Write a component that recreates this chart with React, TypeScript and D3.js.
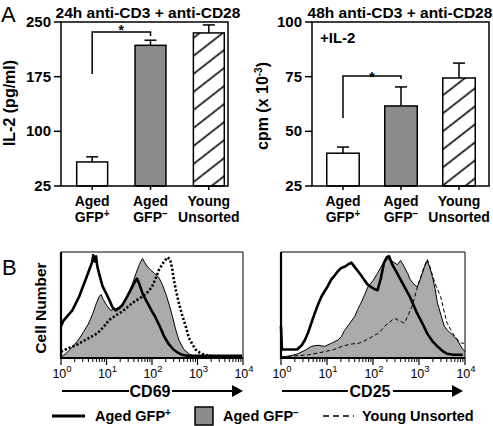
import React from "react";
import * as d3 from "d3";

// ---------- Panel A data ----------
const categories = ["Aged GFP+", "Aged GFP−", "Young Unsorted"];
const catLine1 = ["Aged", "Aged", "Young"];
const catLine2 = ["GFP", "GFP", "Unsorted"];
const catSup = ["+", "−", ""];

const il2Means = [58, 218, 235];
const il2Errors = [7, 7, 11];
const il2Ticks = [25, 100, 175, 250];

const cpmMeans = [40, 61.6, 74.4];
const cpmErrors = [2.8, 8.7, 6.8];
const cpmTicks = [25, 50, 75, 100];

// ---------- Panel B data (x: log10 fluorescence, y: % of max) ----------
const cd69AgedPos: [number, number][] = [
  [0, 30], [0.05, 35], [0.15, 40], [0.25, 45], [0.33, 52], [0.4, 58], [0.47, 66], [0.55, 75], [0.62, 83],
  [0.68, 90], [0.71, 97], [0.74, 91], [0.77, 96], [0.8, 86], [0.86, 76], [0.91, 68], [0.98, 62],
  [1.06, 55], [1.13, 48], [1.2, 45], [1.28, 47], [1.35, 50], [1.43, 56], [1.53, 64], [1.6, 70],
  [1.67, 75], [1.72, 70], [1.8, 60], [1.9, 52], [2.0, 44], [2.08, 38], [2.17, 30], [2.27, 20],
  [2.37, 13], [2.47, 8], [2.57, 5], [2.66, 3], [2.8, 2], [3.0, 2], [3.5, 2], [3.98, 2],
];
const cd69AgedNeg: [number, number][] = [
  [0, 1], [0.1, 4], [0.2, 8], [0.3, 13], [0.4, 18], [0.5, 25], [0.6, 32], [0.7, 42], [0.78, 52],
  [0.84, 58], [0.88, 60], [0.93, 55], [1.0, 50], [1.09, 45], [1.18, 46], [1.28, 48], [1.38, 52],
  [1.47, 60], [1.57, 70], [1.65, 80], [1.72, 88], [1.79, 94], [1.84, 90], [1.9, 86], [1.97, 83],
  [2.05, 80], [2.15, 76], [2.22, 70], [2.3, 61], [2.38, 50], [2.45, 39], [2.52, 27], [2.59, 17],
  [2.7, 8], [2.81, 4], [2.95, 1], [3.2, 0.5], [4, 0.5],
];
const cd69Young: [number, number][] = [
  [0, 6], [0.1, 8], [0.2, 10], [0.33, 12], [0.45, 15], [0.62, 19], [0.75, 22], [0.84, 25], [0.95, 30],
  [1.06, 36], [1.2, 40], [1.35, 44], [1.46, 48], [1.57, 52], [1.68, 55], [1.79, 58], [1.9, 62],
  [2.0, 67], [2.08, 75], [2.15, 83], [2.25, 90], [2.34, 95], [2.4, 93], [2.44, 85], [2.48, 74],
  [2.53, 63], [2.59, 52], [2.66, 41], [2.74, 30], [2.81, 19], [2.9, 12], [2.96, 8], [3.05, 5],
  [3.15, 3], [3.3, 2],
];
const cd25AgedPos: [number, number][] = [
  [0, 30], [0.02, 8], [0.2, 8], [0.35, 8], [0.45, 12], [0.52, 17], [0.59, 24], [0.66, 33], [0.74, 43],
  [0.81, 51], [0.88, 58], [0.95, 63], [1.02, 68], [1.09, 74], [1.17, 78], [1.24, 82], [1.31, 85],
  [1.38, 86], [1.45, 88], [1.53, 90], [1.6, 86], [1.67, 82], [1.74, 78], [1.82, 73], [1.89, 69],
  [1.96, 67], [2.03, 65], [2.1, 64], [2.17, 75], [2.24, 90], [2.3, 95], [2.35, 96], [2.42, 88],
  [2.5, 82], [2.6, 74], [2.7, 66], [2.8, 58], [2.9, 48], [2.96, 42], [3.07, 33], [3.18, 23],
  [3.29, 16], [3.4, 11], [3.5, 7], [3.61, 4], [3.75, 3], [3.95, 3],
];
const cd25AgedNeg: [number, number][] = [
  [0, 1], [0.2, 2], [0.37, 4], [0.55, 8], [0.66, 11], [0.8, 12], [0.95, 11], [1.1, 14], [1.24, 17],
  [1.31, 20], [1.38, 26], [1.5, 33], [1.6, 39], [1.67, 46], [1.74, 52], [1.82, 60], [1.89, 67],
  [2.0, 73], [2.1, 80], [2.2, 88], [2.28, 94], [2.35, 93], [2.46, 90], [2.53, 88], [2.6, 92],
  [2.68, 86], [2.75, 80], [2.81, 74], [2.88, 70], [2.96, 67], [3.05, 77], [3.12, 86], [3.18, 92],
  [3.23, 86], [3.29, 77], [3.35, 65], [3.4, 52], [3.48, 40], [3.55, 30], [3.62, 26], [3.7, 23],
  [3.77, 20], [3.83, 17], [3.9, 12], [3.94, 9], [4.0, 6],
];
const cd25Young: [number, number][] = [
  [0, 1], [0.3, 2], [0.6, 3], [0.95, 6], [1.15, 8], [1.33, 11], [1.5, 13], [1.7, 14], [1.85, 17],
  [1.98, 20], [2.1, 23], [2.2, 27], [2.28, 31], [2.34, 33], [2.42, 36], [2.5, 37], [2.57, 35],
  [2.63, 34], [2.68, 33], [2.74, 38], [2.78, 42], [2.84, 48], [2.89, 55], [2.96, 66], [3.04, 77],
  [3.11, 86], [3.18, 93], [3.24, 86], [3.3, 77], [3.38, 67], [3.47, 58], [3.54, 45], [3.61, 33],
  [3.7, 26], [3.78, 20], [3.85, 17], [3.92, 14], [3.98, 14],
];
const decades = [0, 1, 2, 3, 4];

const FONT = "'Liberation Sans', Arial, Helvetica, sans-serif";
const BAR_GRAY = "#8c8c8c";
const HIST_GRAY = "#ababab";

type BarPanelProps = {
  left: number; right: number; top: number; bottom: number;
  bandRange: [number, number]; padInner: number; padOuter: number;
  domain: [number, number]; ticks: number[]; means: number[]; errors: number[];
  title: string; titleX: number; ylabel: React.ReactNode; ylabelX: number;
  bracketTop: number; bracketStart: number; bracketEndDrop: number; starY: number;
  extra?: React.ReactNode;
};

function BarPanel(p: BarPanelProps) {
  const y = d3.scaleLinear().domain(p.domain).range([p.bottom, p.top]);
  const x = d3.scaleBand<string>().domain(categories).range(p.bandRange)
    .paddingInner(p.padInner).paddingOuter(p.padOuter);
  const bw = x.bandwidth();
  const cx = (c: string) => (x(c) as number) + bw / 2;
  const fills = [ "#ffffff", BAR_GRAY, "url(#hatch)" ];
  const c0 = cx(categories[0]);
  const c1 = cx(categories[1]);
  return (
    <g fontFamily={FONT}>
      <text x={p.titleX} y={18} textAnchor="middle" fontSize={15.5} fontWeight="bold">{p.title}</text>
      {p.ylabel}
      {p.ticks.map((t) => (
        <g key={t}>
          <line x1={p.left - 7} x2={p.left} y1={y(t)} y2={y(t)} stroke="black" strokeWidth={1.5} />
          <text x={p.left - 10} y={y(t) + 5} textAnchor="end" fontSize={15} fontWeight="bold">{t}</text>
        </g>
      ))}
      {categories.map((c, i) => (
        <g key={c}>
          <rect x={x(c)} y={y(p.means[i])} width={bw} height={p.bottom - y(p.means[i])}
            fill={fills[i]} stroke="black" strokeWidth={1.5} />
          <line x1={cx(c)} x2={cx(c)} y1={y(p.means[i])} y2={y(p.means[i] + p.errors[i])} stroke="black" strokeWidth={1.5} />
          <line x1={cx(c) - 6} x2={cx(c) + 6} y1={y(p.means[i] + p.errors[i])} y2={y(p.means[i] + p.errors[i])} stroke="black" strokeWidth={1.5} />
          <line x1={cx(c)} x2={cx(c)} y1={p.bottom} y2={p.bottom + 4} stroke="black" strokeWidth={1.5} />
          <text x={cx(c)} y={206} textAnchor="middle" fontSize={14} fontWeight="bold">{catLine1[i]}</text>
          <text x={cx(c)} y={222} textAnchor="middle" fontSize={14} fontWeight="bold">
            {catLine2[i]}
            {catSup[i] && <tspan fontSize={10} dy={-5}>{catSup[i]}</tspan>}
          </text>
        </g>
      ))}
      <rect x={p.left} y={p.top} width={p.right - p.left} height={p.bottom - p.top} fill="none" stroke="black" strokeWidth={1.5} />
      <path d={`M${c0},${p.bracketStart}V${p.bracketTop}H${c1}V${p.bracketTop + p.bracketEndDrop}`} fill="none" stroke="black" strokeWidth={1.5} />
      <text x={(c0 + c1) / 2} y={p.starY} textAnchor="middle" fontSize={14} fontWeight="bold">*</text>
      {p.extra}
    </g>
  );
}

type HistProps = {
  left: number; right: number; top: number; bottom: number;
  agedPos: [number, number][]; agedNeg: [number, number][]; young: [number, number][];
  youngStyle: { width: number; dash: string };
  label: string; labelX: number; arrowStart: number; arrowEnd: number; textL: number; textR: number;
};

function Hist(p: HistProps) {
  const x = d3.scaleLog().domain([1, 10000]).range([p.left, p.right]);
  const y = d3.scaleLinear().domain([0, 100]).range([p.bottom, p.top]);
  const line = d3.line<[number, number]>().x((d) => x(Math.pow(10, d[0]))).y((d) => y(d[1]));
  const area = d3.area<[number, number]>().x((d) => x(Math.pow(10, d[0]))).y0(y(0)).y1((d) => y(d[1]));
  const minor: number[] = [];
  for (let dd = 0; dd < 4; dd++) for (let m = 2; m <= 9; m++) minor.push(m * Math.pow(10, dd));
  const ay = 391;
  return (
    <g fontFamily={FONT}>
      <path d={area(p.agedNeg) || ""} fill={HIST_GRAY} stroke="none" />
      <path d={line(p.agedNeg) || ""} fill="none" stroke="black" strokeWidth={1} />
      <path d={line(p.young) || ""} fill="none" stroke="black" strokeWidth={p.youngStyle.width} strokeDasharray={p.youngStyle.dash} />
      <path d={line(p.agedPos) || ""} fill="none" stroke="black" strokeWidth={2.6} strokeLinejoin="round" />
      <line x1={p.left} x2={p.right} y1={p.top} y2={p.top} stroke="black" strokeWidth={1} />
      <line x1={p.right} x2={p.right} y1={p.top} y2={p.bottom} stroke="black" strokeWidth={1} />
      <line x1={p.left} x2={p.left} y1={p.top} y2={p.bottom + 1} stroke="black" strokeWidth={2.2} />
      <line x1={p.left} x2={p.right} y1={p.bottom} y2={p.bottom} stroke="black" strokeWidth={2.2} />
      {minor.map((v) => (
        <line key={v} x1={x(v)} x2={x(v)} y1={p.bottom} y2={p.bottom + 4} stroke="black" strokeWidth={1} />
      ))}
      {decades.map((dd) => (
        <g key={dd}>
          <line x1={x(Math.pow(10, dd))} x2={x(Math.pow(10, dd))} y1={p.bottom} y2={p.bottom + 7} stroke="black" strokeWidth={1.2} />
          <text x={x(Math.pow(10, dd)) + 1} y={378} textAnchor="middle" fontSize={12.5}>
            10<tspan fontSize={9.5} dy={-6}>{dd}</tspan>
          </text>
        </g>
      ))}
      <line x1={p.arrowStart} x2={p.textL} y1={ay} y2={ay} stroke="black" strokeWidth={1.8} />
      <line x1={p.textR} x2={p.arrowEnd - 9} y1={ay} y2={ay} stroke="black" strokeWidth={1.8} />
      <path d={`M${p.arrowEnd - 11},${ay - 6}L${p.arrowEnd},${ay}L${p.arrowEnd - 11},${ay + 6}Z`} fill="black" />
      <text x={p.labelX} y={397} textAnchor="middle" fontSize={16} fontWeight="bold">{p.label}</text>
    </g>
  );
}

export default function App() {
  return (
    <svg width={493} height={426} style={{ position: "absolute", left: 0, top: 0, background: "white" }}>
      <defs>
        <pattern id="hatch" patternUnits="userSpaceOnUse" width={12} height={14.2} patternTransform="rotate(-38)">
          <line x1={0} x2={12} y1={7} y2={7} stroke="black" strokeWidth={1.6} />
        </pattern>
      </defs>
      <rect x={0} y={0} width={493} height={426} fill="white" />
      <text x={1} y={22} fontSize={22} fontFamily={FONT}>A</text>
      <text x={2} y={275} fontSize={22} fontFamily={FONT}>B</text>

      <BarPanel left={61} right={228} top={22} bottom={186}
        bandRange={[63, 238]} padInner={0.47} padOuter={0.235}
        domain={[25, 250]} ticks={il2Ticks} means={il2Means} errors={il2Errors}
        title="24h anti-CD3 + anti-CD28" titleX={148}
        ylabel={<text transform="translate(15,103) rotate(-90)" textAnchor="middle" fontSize={16} fontWeight="bold">IL-2 (pg/ml)</text>}
        ylabelX={15} bracketTop={32} bracketStart={74} bracketEndDrop={4} starY={35} />

      <BarPanel left={312} right={489} top={22} bottom={186}
        bandRange={[313, 489]} padInner={0.44} padOuter={0.237}
        domain={[25, 100]} ticks={cpmTicks} means={cpmMeans} errors={cpmErrors}
        title="48h anti-CD3 + anti-CD28" titleX={400}
        ylabel={<text transform="translate(268,106) rotate(-90)" textAnchor="middle" fontSize={16} fontWeight="bold">cpm (x 10<tspan fontSize={10} dy={-6}>-3</tspan><tspan dy={6}>)</tspan></text>}
        ylabelX={268} bracketTop={76} bracketStart={118} bracketEndDrop={3} starY={82}
        extra={<text x={320} y={43} fontSize={15} fontWeight="bold" fontFamily={FONT}>+IL-2</text>} />

      <text transform="translate(46,308) rotate(-90)" textAnchor="middle" fontSize={15.5} fontWeight="bold" fontFamily={FONT}>Cell Number</text>

      <Hist left={61} right={243} top={252} bottom={358}
        agedPos={cd69AgedPos} agedNeg={cd69AgedNeg} young={cd69Young}
        youngStyle={{ width: 2.6, dash: "2.2 2" }}
        label="CD69" labelX={150} arrowStart={62} arrowEnd={243} textL={129} textR={172} />
      <Hist left={281} right={465} top={252} bottom={358}
        agedPos={cd25AgedPos} agedNeg={cd25AgedNeg} young={cd25Young}
        youngStyle={{ width: 1, dash: "4 2.5" }}
        label="CD25" labelX={370} arrowStart={282} arrowEnd={463} textL={348} textR={393} />

      <g fontFamily={FONT} fontWeight="bold" fontSize={14.5}>
        <line x1={52} x2={85} y1={416} y2={416} stroke="black" strokeWidth={3} />
        <text x={95} y={421}>Aged GFP<tspan fontSize={10} dy={-5}>+</tspan></text>
        <rect x={195} y={407} width={18} height={18} fill={BAR_GRAY} stroke="black" strokeWidth={1.5} />
        <text x={223} y={421}>Aged GFP<tspan fontSize={10} dy={-5}>−</tspan></text>
        <line x1={323} x2={354} y1={416} y2={416} stroke="black" strokeWidth={1.5} strokeDasharray="6 4" />
        <text x={362} y={421}>Young Unsorted</text>
      </g>
    </svg>
  );
}
